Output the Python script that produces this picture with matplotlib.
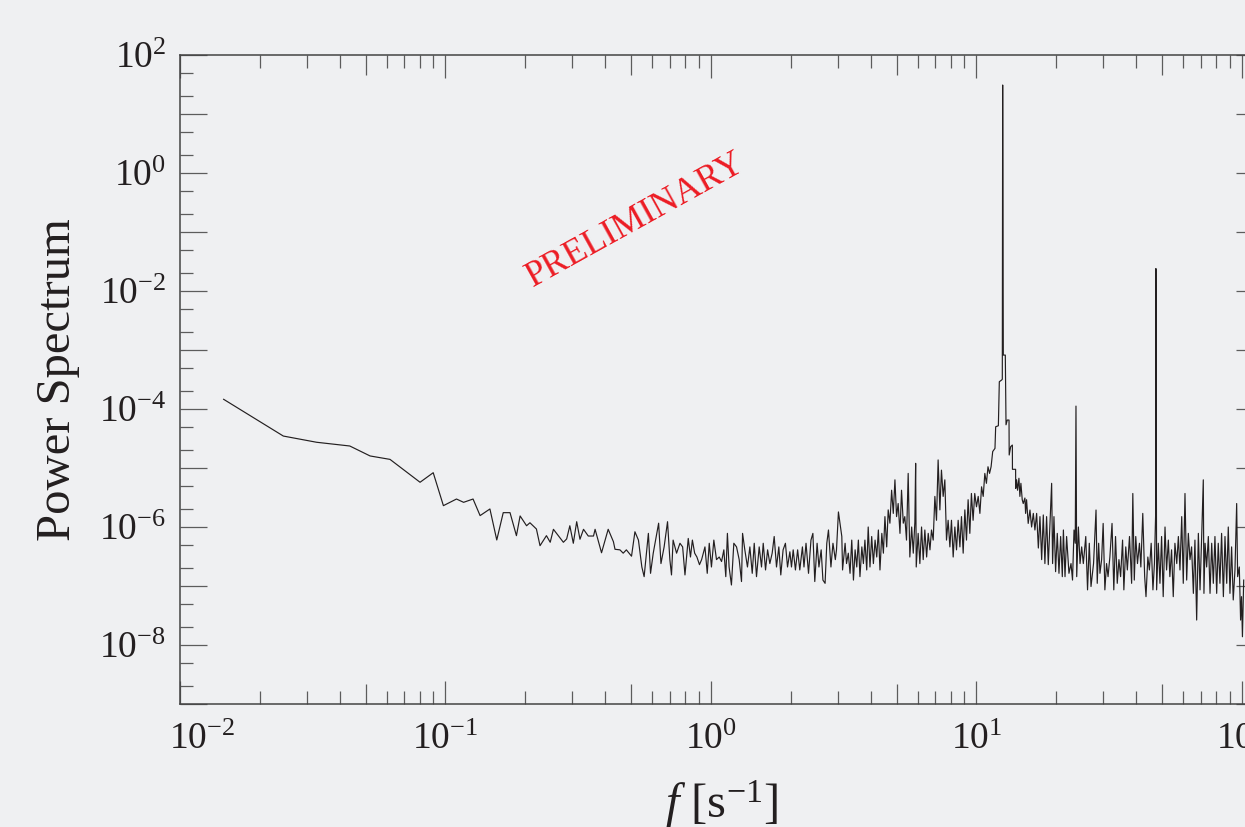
import matplotlib
matplotlib.use("Agg")
import matplotlib.pyplot as plt
from matplotlib.ticker import FixedLocator, FuncFormatter, NullLocator, NullFormatter
from matplotlib.transforms import ScaledTranslation
import numpy as np

plt.rcParams["font.family"] = "Liberation Serif"
plt.rcParams["mathtext.fontset"] = "custom"
plt.rcParams["mathtext.rm"] = "Liberation Serif"
plt.rcParams["mathtext.it"] = "Liberation Serif:italic"
plt.rcParams["mathtext.bf"] = "Liberation Serif:bold"

# --- spectrum, read per band (frequency in s^-1, power) ---
# low-frequency tail
freq_low = [0.0146, 0.0245, 0.0327, 0.0436, 0.0520, 0.0618, 0.0802, 0.0899, 0.0982, 0.110,
            0.117, 0.127, 0.135, 0.147, 0.156, 0.165, 0.175, 0.185, 0.191, 0.202,
            0.208, 0.220, 0.227, 0.240, 0.248, 0.255, 0.278, 0.286, 0.294, 0.303,
            0.312, 0.321, 0.331, 0.345, 0.361, 0.366, 0.387, 0.410, 0.429, 0.435]
power_low = [1.46e-4, 3.48e-5, 2.73e-5, 2.36e-5, 1.60e-5, 1.40e-5, 5.73e-6, 8.32e-6, 2.30e-6, 2.98e-6,
             2.62e-6, 2.98e-6, 1.56e-6, 2.02e-6, 6.03e-7, 1.75e-6, 1.75e-6, 7.13e-7, 1.54e-6, 1.05e-6,
             1.18e-6, 9.25e-7, 4.82e-7, 7.13e-7, 5.51e-7, 9.14e-7, 5.51e-7, 6.27e-7, 1.05e-6, 5.30e-7,
             1.23e-6, 6.20e-7, 9.14e-7, 7.03e-7, 7.03e-7, 9.14e-7, 3.66e-7, 9.14e-7, 5.64e-7, 4.19e-7]

# flat noise floor
freq_mid = [0.454, 0.467, 0.480, 0.502, 0.517, 0.533, 0.549, 0.560, 0.573, 0.581,
            0.592, 0.606, 0.625, 0.635, 0.648, 0.666, 0.686, 0.700, 0.710, 0.720,
            0.742, 0.764, 0.782, 0.798, 0.821, 0.837, 0.851, 0.868, 0.885, 0.905,
            0.922, 0.949, 0.968, 0.985, 1.004, 1.025, 1.049, 1.074, 1.096, 1.118,
            1.137, 1.153, 1.170, 1.194, 1.219, 1.248, 1.277, 1.303, 1.315, 1.341,
            1.372, 1.401, 1.430, 1.455, 1.484, 1.519, 1.550, 1.573, 1.605, 1.634,
            1.666, 1.700, 1.730, 1.765, 1.801, 1.832, 1.869, 1.907, 1.942, 1.982,
            2.01, 2.04, 2.08, 2.12, 2.16, 2.21, 2.24, 2.28, 2.33, 2.38,
            2.42, 2.46, 2.51, 2.55, 2.60, 2.64, 2.69, 2.73, 2.77, 2.83,
            2.88, 2.94, 2.97, 3.02]
power_mid = [4.1e-7, 3.6e-7, 4.1e-7, 3.2e-7, 8.3e-7, 6.0e-7, 2.1e-7, 1.44e-7, 4.1e-7, 7.8e-7,
             1.64e-7, 3.6e-7, 7.8e-7, 1.16e-6, 2.4e-7, 4.6e-7, 1.23e-6, 2.8e-7, 1.54e-7, 6.0e-7,
             3.6e-7, 5.3e-7, 4.6e-7, 1.54e-7, 6.4e-7, 3.1e-7, 6.0e-7, 3.6e-7, 3.1e-7, 2.3e-7,
             2.8e-7, 4.6e-7, 1.64e-7, 5.3e-7, 2.1e-7, 6.0e-7, 2.8e-7, 3.1e-7, 2.6e-7, 4.1e-7,
             1.44e-7, 7.8e-7, 2.1e-7, 1.04e-7, 5.3e-7, 4.6e-7, 2.8e-7, 1.19e-7, 7.8e-7, 4.1e-7,
             2.1e-7, 4.6e-7, 1.64e-7, 5.3e-7, 1.44e-7, 4.6e-7, 2.1e-7, 5.3e-7, 1.87e-7, 4.1e-7,
             2.4e-7, 3.6e-7, 6.9e-7, 2.1e-7, 4.6e-7, 1.54e-7, 4.1e-7, 5.3e-7, 2.1e-7, 3.8e-7,
             2.1e-7, 4.1e-7, 1.87e-7, 4.1e-7, 1.87e-7, 4.6e-7, 2.1e-7, 5.3e-7, 1.64e-7, 6.0e-7,
             7.8e-7, 1.19e-7, 5.3e-7, 2.1e-7, 4.1e-7, 1.26e-7, 1.11e-7, 5.3e-7, 8.9e-7, 2.1e-7,
             5.3e-7, 2.8e-7, 4.1e-7, 1.8e-6]

# broad bumps below the main line
freq_bump = [3.11, 3.13, 3.20, 3.24, 3.29, 3.34, 3.39, 3.44, 3.49, 3.54,
             3.59, 3.64, 3.70, 3.75, 3.80, 3.86, 3.91, 3.97, 4.03, 4.09,
             4.15, 4.21, 4.27, 4.33, 4.40, 4.46, 4.52, 4.59, 4.65, 4.72,
             4.79, 4.86, 4.93, 5.00, 5.07, 5.15, 5.22, 5.30, 5.37, 5.45,
             5.53, 5.61, 5.70, 5.78, 5.86, 5.90, 5.93, 6.03, 6.12, 6.21,
             6.30, 6.39, 6.49, 6.58, 6.68, 6.77, 6.87, 6.97, 7.07, 7.17,
             7.28, 7.38, 7.49, 7.60, 7.71, 7.82, 7.94, 8.05, 8.17, 8.29,
             8.41, 8.53, 8.66, 8.78, 8.91, 9.04, 9.17, 9.30, 9.44, 9.57,
             9.71, 9.85, 10.0, 10.15, 10.3, 10.45, 10.6, 10.75, 10.9, 11.05,
             11.2, 11.35]
power_bump = [6.9e-7, 1.87e-7, 5.3e-7, 2.4e-7, 3.6e-7, 1.64e-7, 6.0e-7, 1.26e-7, 4.1e-7, 2.1e-7,
              6.0e-7, 1.44e-7, 4.6e-7, 2.4e-7, 6.0e-7, 1.87e-7, 1.0e-6, 2.1e-7, 6.9e-7, 2.4e-7,
              6.0e-7, 3.1e-7, 8.9e-7, 1.87e-7, 7.8e-7, 3.6e-7, 1.5e-6, 4.6e-7, 1.95e-6, 1.16e-6,
              4.2e-6, 1.7e-6, 6.3e-6, 1.5e-6, 2.5e-6, 7.8e-7, 4.2e-6, 1.16e-6, 1.5e-6, 6.0e-7,
              8.1e-6, 3.1e-7, 1.0e-6, 3.6e-7, 1.2e-6, 1.2e-5, 2.1e-7, 7.8e-7, 2.4e-7, 1.0e-6,
              2.8e-7, 8.9e-7, 3.1e-7, 7.8e-7, 4.1e-7, 8.9e-7, 6.0e-7, 3.3e-6, 1.3e-6, 1.37e-5,
              1.95e-6, 9.2e-6, 3.3e-6, 6.3e-6, 6.0e-7, 1.3e-6, 4.6e-7, 1.3e-6, 3.1e-7, 1.0e-6,
              4.1e-7, 1.3e-6, 4.6e-7, 1.5e-6, 3.6e-7, 1.95e-6, 6.0e-7, 2.9e-6, 7.8e-7, 3.7e-6,
              1.3e-6, 3.7e-6, 2.2e-6, 3.3e-6, 1.7e-6, 4.8e-6, 3.3e-6, 8.1e-6, 5.5e-6, 1.05e-5,
              8.1e-6, 1.05e-5]

# main resonance
freq_peak = [11.51, 11.74, 11.81, 12.09, 12.19, 12.44, 12.51, 12.55, 12.62, 12.84,
             12.92, 13.06, 13.26, 13.28, 13.45, 13.65, 13.66, 14.04, 14.05]
power_peak = [1.9e-5, 2.15e-5, 5.0e-5, 5.2e-5, 2.9e-4, 3.1e-4, 3.2e-4, 31.0, 8.2e-4, 8.2e-4,
              5.4e-5, 6.5e-5, 6.5e-5, 1.66e-5, 2.3e-5, 2.45e-5, 9.5e-6, 9.5e-6, 4.5e-6]

# decay and high-frequency floor with harmonics
freq_high = [14.16, 14.28, 14.45, 14.57, 14.70, 14.87, 15.00, 15.22, 15.31, 15.44,
             15.66, 15.90, 16.13, 16.37, 16.60, 16.85, 17.10, 17.34, 17.60, 17.85,
             18.10, 18.37, 18.64, 18.91, 19.19, 19.35, 19.58, 19.86, 20.15, 20.45,
             20.75, 21.05, 21.25, 21.55, 21.85, 22.30, 22.70, 23.00, 23.30, 23.55,
             23.70, 23.85, 24.20, 24.55, 24.90, 25.26, 25.80, 26.20, 26.60, 27.00,
             27.60, 28.20, 28.50, 28.85, 29.18, 29.60, 30.00, 30.45, 30.90, 31.30,
             31.80, 32.40, 32.90, 33.40, 33.90, 34.40, 34.90, 35.50, 35.90, 36.50,
             37.00, 37.70, 38.40, 38.80, 39.30, 39.80, 40.40, 41.10, 41.60, 42.30,
             43.00, 43.50, 44.20, 44.80, 45.50, 46.20, 46.80, 47.30, 47.40, 47.70,
             48.40, 49.10, 49.80, 50.50, 51.30, 52.00, 52.80, 53.50, 54.30, 55.10,
             55.90, 56.80, 57.60, 58.40, 59.30, 60.10, 61.00, 61.90, 62.80, 63.70,
             64.60, 65.60, 66.50, 67.50, 68.50, 69.50, 70.50, 71.50, 71.90, 72.60,
             73.60, 74.70, 75.80, 76.90, 78.00, 79.10, 80.30, 81.40, 82.60, 83.80,
             85.10, 86.30, 87.60, 88.80, 90.10, 91.40, 92.70, 94.10, 95.50, 96.30,
             97.70, 98.80, 99.60, 100.4, 101.5]
power_high = [6.3e-6, 4.2e-6, 6.7e-6, 3.3e-6, 5.5e-6, 2.9e-6, 2.5e-6, 3.1e-6, 1.7e-6, 2.9e-6,
              1.15e-6, 1.94e-6, 1.0e-6, 1.7e-6, 8.9e-7, 1.7e-6, 4.4e-7, 1.5e-6, 2.8e-7, 1.6e-6,
              2.4e-7, 1.5e-6, 2.3e-7, 1.15e-6, 5.5e-6, 2.4e-7, 1.5e-6, 1.75e-7, 7.8e-7, 1.64e-7,
              6.9e-7, 1.44e-7, 8.9e-7, 1.44e-7, 6.9e-7, 1.64e-7, 2.4e-7, 1.26e-7, 8.9e-7, 5.3e-7,
              1.12e-4, 1.44e-7, 1.0e-6, 2.4e-7, 4.6e-7, 2.4e-7, 6.9e-7, 8.6e-8, 5.3e-7, 9.8e-8,
              2.4e-7, 1.94e-6, 1.11e-7, 5.3e-7, 1.64e-7, 2.8e-7, 1.15e-6, 8.6e-8, 2.4e-7, 1.44e-7,
              3.1e-7, 1.15e-6, 8.6e-8, 6.9e-7, 1.11e-7, 2.8e-7, 1.44e-7, 6.0e-7, 8.6e-8, 4.6e-7,
              1.87e-7, 6.9e-7, 1.11e-7, 3.7e-6, 1.26e-7, 6.9e-7, 2.4e-7, 5.3e-7, 2.1e-7, 1.7e-6,
              1.44e-7, 6.6e-8, 3.1e-7, 1.87e-7, 5.3e-7, 8.6e-8, 2.4e-7, 1.7e-6, 2.4e-2, 8.6e-8,
              5.3e-7, 1.11e-7, 6.9e-7, 6.6e-8, 1.0e-6, 1.87e-7, 6.0e-7, 1.44e-7, 4.1e-7, 6.6e-8,
              5.3e-7, 2.4e-7, 6.9e-7, 1.87e-7, 1.5e-6, 1.11e-7, 3.7e-6, 1.26e-7, 7.8e-7, 2.8e-7,
              4.6e-7, 7.5e-8, 6.0e-7, 2.65e-8, 7.8e-7, 8.6e-8, 6.9e-7, 6.3e-6, 7.5e-8, 5.3e-7,
              2.1e-7, 6.9e-7, 7.5e-8, 5.3e-7, 1.11e-7, 6.9e-7, 7.5e-8, 5.3e-7, 1.11e-7, 7.8e-7,
              6.6e-8, 6.9e-7, 1.11e-7, 1.0e-6, 7.5e-8, 4.6e-7, 5.8e-8, 1.87e-7, 2.5e-6, 1.44e-7,
              2.1e-7, 2.65e-8, 6.6e-8, 1.38e-8, 1.26e-7]

bands = [(freq_low, power_low), (freq_mid, power_mid), (freq_bump, power_bump),
         (freq_peak, power_peak), (freq_high, power_high)]
for fq, pw in bands:
    assert len(fq) == len(pw), (len(fq), len(pw))
freq = np.concatenate([b[0] for b in bands])
power = np.concatenate([b[1] for b in bands])

ink = "#231f20"
tick_col = "#5c5c5c"
bg = "#eff0f2"

fig = plt.figure(figsize=(12.45, 8.27), dpi=100, facecolor=bg)
ax = fig.add_axes([180 / 1245, 123 / 827, 1083 / 1245, 649 / 827], facecolor=bg)

ax.plot(freq, power, color=ink, lw=0.85)

ax.set_xscale("log")
ax.set_yscale("log")
ax.set_xlim(0.01, 120)
ax.set_ylim(1e-9, 1e2)

decades_x = [1e-2, 1e-1, 1e0, 1e1, 1e2]
minor_x = [m * d for d in decades_x[:-1] for m in (2, 3, 4, 6, 7, 8, 9)]
fives_x = [5 * d for d in decades_x[:-1]]
decades_y = [10.0 ** e for e in range(-9, 3)]
minor_y = [m * d for d in decades_y[:-1] for m in (2, 5)]


def exp_label(v, pos, step=1):
    e = int(round(np.log10(v)))
    if e % step:
        return ""
    return r"$\mathregular{10^{%d}}$" % e


ax.xaxis.set_major_locator(FixedLocator(decades_x))
ax.xaxis.set_minor_locator(FixedLocator(minor_x))
ax.xaxis.set_major_formatter(FuncFormatter(exp_label))
ax.xaxis.set_minor_formatter(NullFormatter())
ax.yaxis.set_major_locator(FixedLocator(decades_y))
ax.yaxis.set_minor_locator(FixedLocator(minor_y))
ax.yaxis.set_major_formatter(FuncFormatter(lambda v, p: exp_label(v, p, step=2)))
ax.yaxis.set_minor_formatter(NullFormatter())

ax.tick_params(which="both", direction="in", top=True, right=True, color=tick_col,
               width=0.9, labelsize=27, labelcolor=ink)
ax.tick_params(axis="x", which="major", length=16.8, pad=13)
ax.tick_params(axis="x", which="minor", length=9.4)
ax.tick_params(axis="y", which="major", length=19.2, pad=10)
ax.tick_params(axis="y", which="minor", length=9.4)

# medium ticks at the 5s along the x axis
for side in ("bottom", "top"):
    sec = ax.secondary_xaxis(side)
    sec.xaxis.set_major_locator(FixedLocator(fives_x))
    sec.xaxis.set_minor_locator(NullLocator())
    sec.tick_params(which="major", direction="in", length=14.4, width=0.9, color=tick_col,
                    labelbottom=False, labeltop=False)
    sec.spines[side].set_visible(False)

for s in ax.spines.values():
    s.set_color("#444444")
    s.set_linewidth(1.1)

# keep the first x label inside the frame
first = ax.xaxis.get_major_ticks()[0].label1
first.set_transform(first.get_transform() + ScaledTranslation(0.22, 0, fig.dpi_scale_trans))

ax.set_ylabel("Power Spectrum", fontsize=35, color=ink)
ax.yaxis.set_label_coords(-0.092, 0.5)
ax.set_xlabel(r"$f$ [s$^{-1}$]", fontsize=35, color=ink)
ax.xaxis.set_label_coords(0.5, -0.115)

ax.text(0.52, 0.16, "PRELIMINARY", color="#ec1c24", fontsize=26, rotation=29,
        rotation_mode="anchor", ha="center", va="center")

fig.savefig("out.png", dpi=100, facecolor=bg)
